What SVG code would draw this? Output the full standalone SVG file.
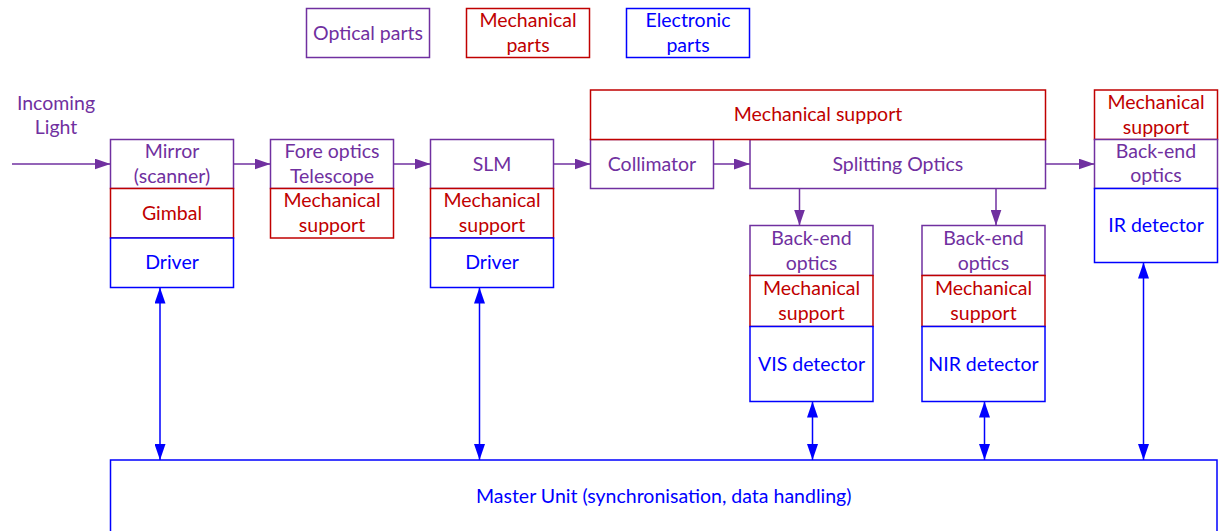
<svg xmlns="http://www.w3.org/2000/svg" width="1222" height="531" viewBox="0 0 1222 531">
  <style>
    .box { fill: #ffffff; stroke-width: 1.5; }
    .opt { stroke: #7030A0; }
    .mec { stroke: #C00000; }
    .ele { stroke: #0000FF; }
    text { font-family: "Lato", "Liberation Sans", sans-serif; font-size: 19.5px; text-anchor: middle; }
    .t-opt { fill: #7030A0; }
    .t-mec { fill: #C00000; }
    .t-ele { fill: #0000FF; }
    .flow { fill: none; stroke: #7030A0; stroke-width: 1.5; marker-end: url(#headOpt); }
    .link { fill: none; stroke: #0000FF; stroke-width: 1.5; marker-start: url(#headEle); marker-end: url(#headEle); }
  </style>
  <defs>
    <marker id="headOpt" viewBox="0 0 16 11" refX="16" refY="5.5" markerWidth="16" markerHeight="11" markerUnits="userSpaceOnUse" orient="auto-start-reverse">
      <path d="M0,0 L16,5.5 L0,11 Z" fill="#7030A0"/>
    </marker>
    <marker id="headEle" viewBox="0 0 16 11" refX="16" refY="5.5" markerWidth="16" markerHeight="11" markerUnits="userSpaceOnUse" orient="auto-start-reverse">
      <path d="M0,0 L16,5.5 L0,11 Z" fill="#0000FF"/>
    </marker>
  </defs>
  <rect width="1222" height="531" fill="#ffffff"/>

  <!-- Legend -->
  <g id="legend-optical">
    <rect class="box opt" x="306.5" y="8.5" width="123" height="49"/>
    <text class="t-opt" x="368" y="39.6">Optical parts</text>
  </g>
  <g id="legend-mechanical">
    <rect class="box mec" x="466.5" y="8.5" width="123" height="49"/>
    <text class="t-mec" x="528" y="27.1">Mechanical</text>
    <text class="t-mec" x="528" y="52.1">parts</text>
  </g>
  <g id="legend-electronic">
    <rect class="box ele" x="626.5" y="8.5" width="123" height="49"/>
    <text class="t-ele" x="688" y="27.1">Electronic</text>
    <text class="t-ele" x="688" y="52.1">parts</text>
  </g>

  <!-- Input label -->
  <g id="incoming-light">
    <text class="t-opt" x="56" y="109.5">Incoming</text>
    <text class="t-opt" x="56" y="134">Light</text>
  </g>

  <!-- Scanner column -->
  <g id="mirror">
    <rect class="box opt" x="110.5" y="139.5" width="123" height="49"/>
    <text class="t-opt" x="172" y="158.1">Mirror</text>
    <text class="t-opt" x="172" y="183.1">(scanner)</text>
  </g>
  <g id="gimbal">
    <rect class="box mec" x="110.5" y="188.5" width="123" height="49.5"/>
    <text class="t-mec" x="172" y="219.9">Gimbal</text>
  </g>
  <g id="mirror-driver">
    <rect class="box ele" x="110.5" y="238" width="123" height="49.5"/>
    <text class="t-ele" x="172" y="269.4">Driver</text>
  </g>

  <!-- Fore optics column -->
  <g id="fore-optics">
    <rect class="box opt" x="270.5" y="139.5" width="123" height="49"/>
    <text class="t-opt" x="332" y="158.1">Fore optics</text>
    <text class="t-opt" x="332" y="183.1">Telescope</text>
  </g>
  <g id="fore-support">
    <rect class="box mec" x="270.5" y="188.5" width="123" height="49.5"/>
    <text class="t-mec" x="332" y="207.4">Mechanical</text>
    <text class="t-mec" x="332" y="232.4">support</text>
  </g>

  <!-- SLM column -->
  <g id="slm">
    <rect class="box opt" x="430.5" y="139.5" width="123" height="49"/>
    <text class="t-opt" x="492" y="170.6">SLM</text>
  </g>
  <g id="slm-support">
    <rect class="box mec" x="430.5" y="188.5" width="123" height="49.5"/>
    <text class="t-mec" x="492" y="207.4">Mechanical</text>
    <text class="t-mec" x="492" y="232.4">support</text>
  </g>
  <g id="slm-driver">
    <rect class="box ele" x="430.5" y="238" width="123" height="49.5"/>
    <text class="t-ele" x="492" y="269.4">Driver</text>
  </g>

  <!-- Collimator and splitting bench -->
  <g id="collimator">
    <rect class="box opt" x="590.5" y="139.5" width="123" height="49"/>
    <text class="t-opt" x="652" y="170.6">Collimator</text>
  </g>
  <g id="splitting-optics">
    <rect class="box opt" x="750" y="139.5" width="295.5" height="49"/>
    <text class="t-opt" x="897.8" y="170.6">Splitting Optics</text>
  </g>
  <g id="bench-support">
    <rect class="box mec" x="590.5" y="90" width="455" height="49.5"/>
    <text class="t-mec" x="818" y="121.4">Mechanical support</text>
  </g>

  <!-- IR channel -->
  <g id="ir-support">
    <rect class="box mec" x="1094.5" y="90" width="123" height="49.5"/>
    <text class="t-mec" x="1156" y="108.9">Mechanical</text>
    <text class="t-mec" x="1156" y="133.9">support</text>
  </g>
  <g id="ir-backend">
    <rect class="box opt" x="1094.5" y="139.5" width="123" height="49"/>
    <text class="t-opt" x="1156" y="157.6">Back-end</text>
    <text class="t-opt" x="1156" y="182.3">optics</text>
  </g>
  <g id="ir-detector">
    <rect class="box ele" x="1094.5" y="188.5" width="123" height="74"/>
    <text class="t-ele" x="1156" y="232.1">IR detector</text>
  </g>

  <!-- VIS channel -->
  <g id="vis-backend">
    <rect class="box opt" x="750" y="225.5" width="123" height="50"/>
    <text class="t-opt" x="811.5" y="244.6">Back-end</text>
    <text class="t-opt" x="811.5" y="269.6">optics</text>
  </g>
  <g id="vis-support">
    <rect class="box mec" x="750" y="275.5" width="123" height="51"/>
    <text class="t-mec" x="811.5" y="295.1">Mechanical</text>
    <text class="t-mec" x="811.5" y="320.1">support</text>
  </g>
  <g id="vis-detector">
    <rect class="box ele" x="750" y="326.5" width="123" height="75"/>
    <text class="t-ele" x="811.5" y="370.6">VIS detector</text>
  </g>

  <!-- NIR channel -->
  <g id="nir-backend">
    <rect class="box opt" x="922" y="225.5" width="123" height="50"/>
    <text class="t-opt" x="983.5" y="244.6">Back-end</text>
    <text class="t-opt" x="983.5" y="269.6">optics</text>
  </g>
  <g id="nir-support">
    <rect class="box mec" x="922" y="275.5" width="123" height="51"/>
    <text class="t-mec" x="983.5" y="295.1">Mechanical</text>
    <text class="t-mec" x="983.5" y="320.1">support</text>
  </g>
  <g id="nir-detector">
    <rect class="box ele" x="922" y="326.5" width="123" height="75"/>
    <text class="t-ele" x="983.5" y="370.6">NIR detector</text>
  </g>

  <!-- Master unit -->
  <g id="master-unit">
    <rect class="box ele" x="110.5" y="460" width="1106.5" height="73"/>
    <text class="t-ele" x="663.7" y="503.1">Master Unit (synchronisation, data handling)</text>
  </g>

  <!-- Connectors -->
  <g id="connectors">
    <path class="flow" d="M12,164 H110.5"/>
    <path class="flow" d="M233.5,164 H270.5"/>
    <path class="flow" d="M393.5,164 H430.5"/>
    <path class="flow" d="M553.5,164 H590.5"/>
    <path class="flow" d="M713.5,164 H750"/>
    <path class="flow" d="M1045.5,164 H1094.5"/>
    <path class="flow" d="M799.5,188.5 V225.5"/>
    <path class="flow" d="M996,188.5 V225.5"/>
    <path class="link" d="M160,287.5 V460"/>
    <path class="link" d="M479.5,287.5 V460"/>
    <path class="link" d="M812.5,401.5 V460"/>
    <path class="link" d="M984.5,401.5 V460"/>
    <path class="link" d="M1143.5,262.5 V460"/>
  </g>
</svg>
